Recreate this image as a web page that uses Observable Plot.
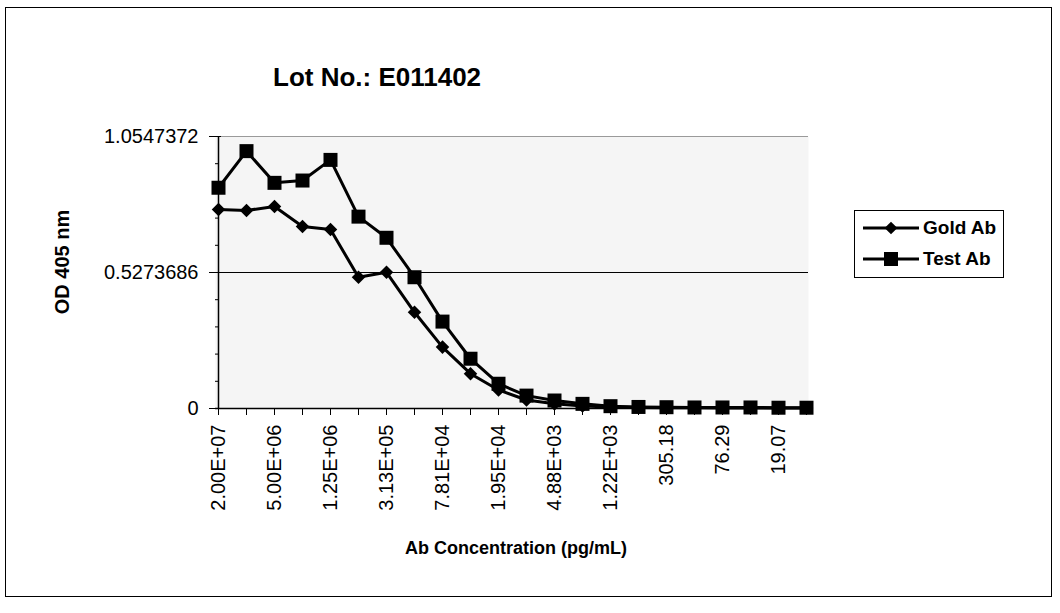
<!DOCTYPE html>
<html><head><meta charset="utf-8">
<script src="https://cdn.jsdelivr.net/npm/d3@7"></script>
<script src="https://cdn.jsdelivr.net/npm/@observablehq/plot@0.6"></script>
<style>
body{margin:0;background:#fff;font-family:"Liberation Sans",Arial,sans-serif;color:#000;}
#wrap{position:relative;width:1060px;height:613px;overflow:hidden;}
#chart{position:absolute;left:0;top:0;}
#border{position:absolute;left:5px;top:7px;width:1047px;height:590px;border:1.5px solid #000;box-sizing:border-box;}
.txt{position:absolute;font-weight:bold;white-space:nowrap;}
#title{left:273px;top:62px;font-size:26px;}
#xlabel{left:516px;top:548px;font-size:18px;transform:translate(-50%,-50%);}
#ylabel{left:62px;top:262px;font-size:20px;transform:translate(-50%,-50%) rotate(-90deg);}
#legend{position:absolute;left:854px;top:210px;width:150px;height:68px;border:1.5px solid #000;box-sizing:border-box;background:#fff;}
</style></head><body>
<div id="wrap">
<div id="border"></div>
<div id="chart"></div>
<div id="title" class="txt">Lot No.: E011402</div>
<div id="ylabel" class="txt">OD 405 nm</div>
<div id="xlabel" class="txt">Ab Concentration (pg/mL)</div>
<div id="legend"></div>
</div>
<script>
const concentrations = ["2.00E+07","1.00E+07","5.00E+06","2.50E+06","1.25E+06","6.25E+05","3.13E+05","1.56E+05","7.81E+04","3.91E+04","1.95E+04","9.77E+03","4.88E+03","2.44E+03","1.22E+03","610.35","305.18","152.59","76.29","38.15","19.07","9.54"];
const goldAb = [0.772,0.768,0.783,0.706,0.694,0.509,0.528,0.373,0.238,0.135,0.072,0.033,0.018,0.010,0.006,0.004,0.003,0.003,0.002,0.002,0.002,0.002];
const testAb = [0.856,0.998,0.875,0.884,0.964,0.744,0.662,0.509,0.337,0.193,0.096,0.050,0.031,0.018,0.009,0.006,0.005,0.004,0.004,0.004,0.003,0.003];
const yTicks = [0, 0.5273686, 1.0547372];
const yTickLabels = ["0", "0.5273686", "1.0547372"];
const yMinorTicks = [0.10547372, 0.21094744, 0.31642116, 0.42189488, 0.63284232, 0.73831604, 0.84378976, 0.94926348];
const seriesNames = ["Gold Ab", "Test Ab"];

const gold = concentrations.map((c, i) => ({c, v: goldAb[i]}));
const test = concentrations.map((c, i) => ({c, v: testAb[i]}));
const labelTicks = concentrations.filter((d, i) => i % 2 === 0);

const chart = Plot.plot({
  width: 1060, height: 613,
  marginLeft: 215, marginRight: 252, marginTop: 136, marginBottom: 205,
  style: {fontFamily: "'Liberation Sans', Arial, sans-serif", fontSize: "20px", color: "#000", background: "transparent", overflow: "visible"},
  x: {type: "point", domain: concentrations, padding: 0, label: null},
  y: {domain: [0, yTicks[2]], label: null},
  marks: [
    Plot.frame({fill: "#f5f5f5", stroke: null}),
    Plot.ruleY([yTicks[2]], {stroke: "#9a9a9a", strokeWidth: 1}),
    Plot.ruleY([yTicks[1]], {stroke: "#000", strokeWidth: 1.2}),
    Plot.ruleY([0], {stroke: "#000", strokeWidth: 1.5}),
    Plot.ruleX([concentrations[0]], {stroke: "#000", strokeWidth: 1.5}),
    Plot.axisY({ticks: yTicks, tickSize: 12, dx: 6, tickPadding: 11, tickFormat: (d) => yTickLabels[yTicks.indexOf(d)], label: null}),
    Plot.axisY({ticks: yMinorTicks, tickSize: 4, dx: 4, tickFormat: () => "", label: null}),
    Plot.axisX({ticks: concentrations, tickSize: 7, tickFormat: () => "", label: null}),
    Plot.axisX({ticks: labelTicks, tickSize: 0, tickRotate: -90, tickPadding: 16, label: null}),
    Plot.line(gold, {x: "c", y: "v", stroke: "#000", strokeWidth: 3}),
    Plot.line(test, {x: "c", y: "v", stroke: "#000", strokeWidth: 3}),
    Plot.dot(gold, {x: "c", y: "v", symbol: "square", r: 5.4, rotate: 45, fill: "#000", stroke: "none"}),
    Plot.dot(test, {x: "c", y: "v", symbol: "square", r: 7.9, fill: "#000", stroke: "none"})
  ]
});
document.getElementById("chart").appendChild(chart);

// legend
const ns = "http://www.w3.org/2000/svg";
const lg = document.getElementById("legend");
seriesNames.forEach((name, i) => {
  const row = document.createElement("div");
  row.style.cssText = "position:absolute;left:8px;top:" + (i === 0 ? 5 : 36) + "px;height:24px;display:flex;align-items:center;";
  const svg = document.createElementNS(ns, "svg");
  svg.setAttribute("width", "56"); svg.setAttribute("height", "24");
  const ln = document.createElementNS(ns, "line");
  ln.setAttribute("x1", "0"); ln.setAttribute("x2", "56"); ln.setAttribute("y1", "12"); ln.setAttribute("y2", "12");
  ln.setAttribute("stroke", "#000"); ln.setAttribute("stroke-width", "3");
  svg.appendChild(ln);
  const m = document.createElementNS(ns, "rect");
  if (i === 0) {
    m.setAttribute("x", "23.5"); m.setAttribute("y", "7.5"); m.setAttribute("width", "9"); m.setAttribute("height", "9");
    m.setAttribute("transform", "rotate(45 28 12)");
  } else {
    m.setAttribute("x", "21"); m.setAttribute("y", "5"); m.setAttribute("width", "14"); m.setAttribute("height", "14");
  }
  m.setAttribute("fill", "#000");
  svg.appendChild(m);
  row.appendChild(svg);
  const t = document.createElement("span");
  t.textContent = name;
  t.style.cssText = "font-weight:bold;font-size:19px;margin-left:4px;";
  row.appendChild(t);
  lg.appendChild(row);
});
</script>
</body></html>
